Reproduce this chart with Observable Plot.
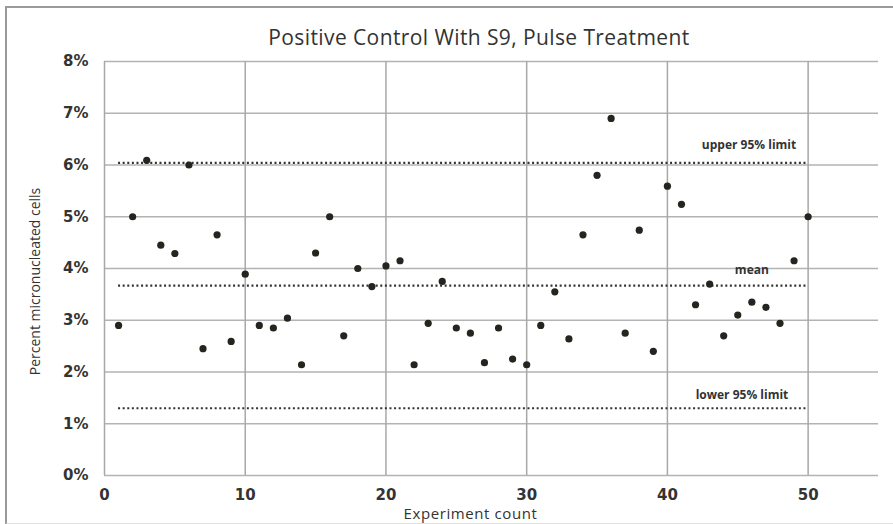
<!DOCTYPE html>
<html>
<head>
<meta charset="utf-8">
<script src="https://cdn.jsdelivr.net/npm/d3@7"></script>
<script src="https://cdn.jsdelivr.net/npm/@observablehq/plot@0.6"></script>
<style>
  html, body { margin: 0; padding: 0; background: #fff; }
  #wrap { position: relative; width: 893px; height: 524px; overflow: hidden; }
  #frame { position: absolute; left: 5px; top: 6px; width: 900px; height: 515px;
           border-left: 2px solid #9a9a9a; border-top: 2px solid #9a9a9a; border-bottom: 2px solid #e0e0e0; }
  #title { position: absolute; left: 0; top: 23px; width: 958px; text-align: center;
           font-family: "Open Sans", sans-serif; font-size: 21px; letter-spacing: 0.4px; color: #333; }
  #chart { position: absolute; left: 0; top: 0; }
</style>
</head>
<body>
<div id="wrap">
  <div id="frame"></div>
  <div id="chart"></div>
  <div id="title">Positive Control With S9, Pulse Treatment</div>
</div>
<script>
// Experiment count (x) and percent micronucleated cells (y)
const experiments = [1,2,3,4,5,6,7,8,9,10,11,12,13,14,15,16,17,18,19,20,21,22,23,24,25,
  26,27,28,29,30,31,32,33,34,35,36,37,38,39,40,41,42,43,44,45,46,47,48,49,50];
const percents = [2.90,5.00,6.09,4.45,4.29,6.00,2.45,4.65,2.59,3.89,
  2.90,2.85,3.04,2.14,4.30,5.00,2.70,4.00,3.65,4.05,
  4.15,2.14,2.94,3.75,2.85,2.75,2.18,2.85,2.25,2.14,
  2.90,3.55,2.64,4.65,5.80,6.90,2.75,4.74,2.40,5.59,
  5.24,3.30,3.70,2.70,3.10,3.35,3.25,2.94,4.15,5.00];

// Reference lines
const refNames = ["upper 95% limit", "mean", "lower 95% limit"];
const refValues = [6.04, 3.67, 1.30];
const refStart = 1, refEnd = 50;
const labelX = [45.8, 46.0, 45.3];
const labelDy = [-18, -15, -13];

// Axis ticks
const xTicks = [0, 10, 20, 30, 40, 50];
const yTicks = [0, 1, 2, 3, 4, 5, 6, 7, 8];

const points = experiments.map((e, i) => ({x: e, y: percents[i]}));
const refs = refNames.map((n, i) => ({name: n, value: refValues[i], lx: labelX[i], dy: labelDy[i]}));

const plot = Plot.plot({
  width: 893,
  height: 524,
  marginLeft: 104,
  marginRight: 15,
  marginTop: 61,
  marginBottom: 49,
  style: {background: "transparent", overflow: "visible"},
  x: {domain: [0, 55], ticks: xTicks, tickSize: 0, tickPadding: 14, label: null, tickFormat: d => String(d)},
  y: {domain: [0, 8], ticks: yTicks, tickSize: 0, tickPadding: 16, label: null, tickFormat: d => d + "%"},
  marks: [
    Plot.ruleY(yTicks, {x1: 0, x2: 55, stroke: "#b3b3b3", strokeWidth: 1.5}),
    Plot.ruleX(xTicks, {y1: 0, y2: 8, stroke: "#a8a8a8", strokeWidth: 1.5}),
    Plot.ruleY(refs, {y: "value", x1: refStart, x2: refEnd, stroke: "#333", strokeWidth: 2.2, strokeDasharray: "2,2.6"}),
    ...refs.map(r => Plot.text([r], {x: "lx", y: "value", text: "name", dy: r.dy, fill: "#333",
      fontFamily: "Open Sans, sans-serif", fontWeight: "bold", fontSize: 12})),
    Plot.dot(points, {x: "x", y: "y", r: 3.6, fill: "#22261f", stroke: "none"}),
    Plot.axisX({ticks: xTicks, tickSize: 0, tickPadding: 14, fontFamily: "DejaVu Sans", fontWeight: "bold", fontSize: 15, fill: "#333", tickFormat: d => String(d)}),
    Plot.axisY({ticks: yTicks, tickSize: 0, tickPadding: 16, fontFamily: "DejaVu Sans", fontWeight: "bold", fontSize: 15, fill: "#333", tickFormat: d => d + "%"}),
    Plot.text(["Experiment count"], {frameAnchor: "bottom", dy: 43, dx: -21, fontFamily: "Open Sans, sans-serif", fontSize: 15, fill: "#333"}),
    Plot.text(["Percent micronucleated cells"], {frameAnchor: "left", textAnchor: "middle", dx: -69, dy: 13, rotate: -90, fontFamily: "Open Sans, sans-serif", fontSize: 14, fill: "#333"})
  ]
});
d3.select(plot).selectAll("text").filter(function() { return this.textContent === "Experiment count"; })
  .style("letter-spacing", "0.6px");
document.getElementById("chart").appendChild(plot);
</script>
</body>
</html>
